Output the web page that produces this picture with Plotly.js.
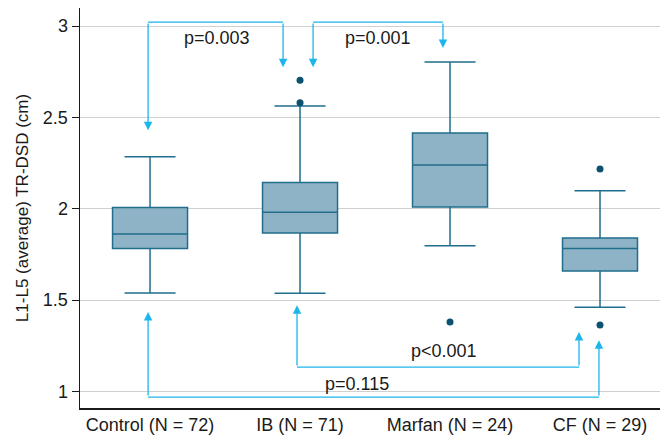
<!DOCTYPE html>
<html><head><meta charset="utf-8">
<script src="https://cdn.plot.ly/plotly-3.0.1.min.js"></script>
<style>html,body{margin:0;padding:0;background:#fff}#plot{width:660px;height:436px}</style>
</head><body><div id="plot"></div>
<script>
const categories = ["Control (N = 72)", "IB (N = 71)", "Marfan (N = 24)", "CF (N = 29)"];
const lowerFence = [1.539, 1.537, 1.798, 1.460];
const q1 = [1.782, 1.867, 2.010, 1.659];
const median = [1.862, 1.981, 2.240, 1.782];
const q3 = [2.007, 2.144, 2.414, 1.840];
const upperFence = [2.284, 2.563, 2.803, 2.098];
const outlierGroup = [1, 1, 2, 3, 3];
const outlierValue = [2.704, 2.580, 1.380, 2.218, 1.363];
const yTicks = [1, 1.5, 2, 2.5, 3];

// comparisons: [groupA, groupB, bracket level, tipA, tipB, offsetA, offsetB, label, labelX, labelY]
const compA = [0, 1, 1, 0];
const compB = [1, 2, 3, 3];
const compLevel = [3.022, 3.022, 1.133, 0.969];
const compTipA = [2.43, 2.775, 1.471, 1.435];
const compTipB = [2.775, 2.88, 1.325, 1.28];
const compOffA = [-0.013, 0.087, -0.02, -0.013];
const compOffB = [-0.113, -0.047, -0.14, -0.007];
const compLabel = ["p=0.003", "p=0.001", "p<0.001", "p=0.115"];
const compLabelX = [0.447, 1.52, 1.96, 1.38];
const compLabelY = [2.934, 2.934, 1.219, 1.038];

const idx = categories.map((c, i) => i);
const boxTrace = {
  type: 'box', x: idx, q1: q1, median: median, q3: q3,
  lowerfence: lowerFence, upperfence: upperFence,
  width: 0.5, whiskerwidth: 0.68, boxpoints: false,
  fillcolor: '#8fb3c6', line: {color: '#216e8c', width: 1.5},
  hoverinfo: 'skip', showlegend: false
};
const outTrace = {
  type: 'scatter', mode: 'markers', x: outlierGroup, y: outlierValue,
  marker: {color: '#0c5270', size: 7}, showlegend: false, hoverinfo: 'skip'
};

const arrowColor = '#1cb5ec';
const shapes = [];
const annotations = [];
for (let i = 0; i < compA.length; i++) {
  const xa = compA[i] + compOffA[i];
  const xb = compB[i] + compOffB[i];
  shapes.push({type: 'line', xref: 'x', yref: 'y', x0: xa, x1: xb, y0: compLevel[i], y1: compLevel[i],
    line: {color: arrowColor, width: 1.3}});
  [[xa, compTipA[i]], [xb, compTipB[i]]].forEach(([xx, tip]) => {
    annotations.push({x: xx, y: tip, xref: 'x', yref: 'y', ax: xx, ay: compLevel[i], axref: 'x', ayref: 'y',
      text: '', showarrow: true, arrowhead: 2, arrowsize: 1.3, arrowwidth: 1.3, arrowcolor: arrowColor});
  });
  annotations.push({x: compLabelX[i], y: compLabelY[i], xref: 'x', yref: 'y', text: compLabel[i],
    showarrow: false, font: {size: 18, color: '#1a1a1a'}});
}

const layout = {
  width: 660, height: 436,
  margin: {l: 80, r: 0, t: 8, b: 28},
  paper_bgcolor: '#fff', plot_bgcolor: '#fff',
  font: {family: 'Liberation Sans, Arial, sans-serif', color: '#1a1a1a', size: 18},
  showlegend: false,
  xaxis: {range: [-0.467, 3.4], tickvals: idx, ticktext: categories, showgrid: false, zeroline: false,
    showline: true, linecolor: '#1a1a1a', linewidth: 1.5, ticks: '', tickfont: {size: 18}},
  yaxis: {range: [0.909, 3.099], tickvals: yTicks, ticktext: yTicks.map(String), showgrid: true, gridcolor: '#d0d0d0', gridwidth: 1,
    zeroline: false, showline: true, linecolor: '#1a1a1a', linewidth: 1.5, ticks: 'outside', ticklen: 7, tickcolor: '#1a1a1a',
    tickfont: {size: 18}, title: {text: 'L1-L5 (average) TR-DSD (cm)', font: {size: 17}, standoff: 10}},
  shapes: shapes, annotations: annotations
};
Plotly.newPlot('plot', [boxTrace, outTrace], layout, {staticPlot: true, displayModeBar: false});
</script></body></html>
